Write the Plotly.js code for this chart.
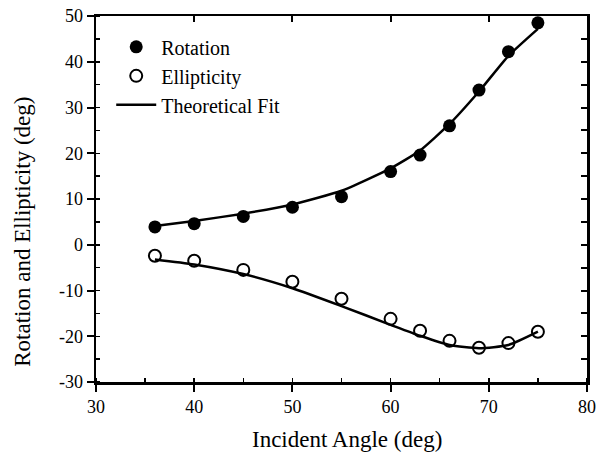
<!DOCTYPE html>
<html>
<head>
<meta charset="utf-8">
<script src="https://cdn.plot.ly/plotly-3.0.1.min.js"></script>
<style>html,body{margin:0;padding:0;background:#fff;}#chart{width:598px;height:452px;}</style>
</head>
<body>
<div id="chart"></div>
<script>
var angles = [36, 40, 45, 50, 55, 60, 63, 66, 69, 72, 75];
var rotation = [3.9, 4.6, 6.2, 8.2, 10.5, 16.0, 19.6, 26.0, 33.8, 42.2, 48.5];
var ellipticity = [-2.4, -3.5, -5.5, -8.1, -11.8, -16.2, -18.8, -21.0, -22.5, -21.5, -19.0];
var fitAngles = [36, 40, 45, 50, 55, 60, 63, 66, 69, 72, 75];
var rotationFit = [4.1, 5.2, 6.8, 8.8, 11.8, 16.7, 20.6, 26.4, 33.5, 41.3, 47.2];
var ellipticityFit = [-3.2, -4.3, -6.4, -9.5, -13.4, -17.5, -19.9, -21.9, -22.6, -21.9, -19.0];
var xTickVals = [30, 40, 50, 60, 70, 80];
var xTickText = ['30', '40', '50', '60', '70', '80'];
var yTickVals = [-30, -20, -10, 0, 10, 20, 30, 40, 50];
var yTickText = ['-30', '-20', '-10', '0', '10', '20', '30', '40', '50'];

var font = "Liberation Serif, Times New Roman, serif";
var traces = [
  {x: angles, y: rotation, mode: 'markers', name: 'Rotation',
   marker: {symbol: 'circle', size: 13, color: '#000'}},
  {x: angles, y: ellipticity, mode: 'markers', name: 'Ellipticity',
   marker: {symbol: 'circle-open', size: 12, color: '#000', line: {width: 2, color: '#000'}}},
  {x: fitAngles, y: rotationFit, mode: 'lines', name: 'Theoretical Fit',
   line: {color: '#000', width: 2.5, shape: 'spline', smoothing: 0.5}},
  {x: fitAngles, y: ellipticityFit, mode: 'lines', name: 'Theoretical Fit', showlegend: false,
   line: {color: '#000', width: 2.5, shape: 'spline', smoothing: 0.6}},
  {x: [30], y: [-30], xaxis: 'x2', yaxis: 'y2', mode: 'markers', showlegend: false,
   marker: {opacity: 0}, hoverinfo: 'skip'}
];
var layout = {
  width: 598, height: 452,
  margin: {l: 96, r: 11, t: 16, b: 70},
  paper_bgcolor: '#fff', plot_bgcolor: '#fff',
  font: {family: font, color: '#000', size: 17},
  showlegend: true,
  legend: {x: 0.031, y: 0.969, xanchor: 'left', yanchor: 'top', bgcolor: 'rgba(0,0,0,0)',
           font: {family: font, size: 20, color: '#000'}, tracegroupgap: 0, itemwidth: 40},
  xaxis: {range: [30, 80], tickmode: 'array', tickvals: xTickVals, ticktext: xTickText,
          showgrid: false, zeroline: false,
          showline: true, linecolor: '#000', linewidth: 2.5,
          ticks: 'outside', ticklen: 7, tickwidth: 2, tickcolor: '#000',
          minor: {dtick: 5, tick0: 30, ticks: 'inside', ticklen: 4, tickwidth: 1.5, tickcolor: '#000'},
          tickfont: {family: font, size: 18}},
  yaxis: {range: [-30, 50], tickmode: 'array', tickvals: yTickVals, ticktext: yTickText,
          showgrid: false, zeroline: false,
          showline: true, linecolor: '#000', linewidth: 2.5,
          ticks: 'outside', ticklen: 7, tickwidth: 2, tickcolor: '#000',
          minor: {dtick: 5, tick0: -30, ticks: 'inside', ticklen: 4, tickwidth: 1.5, tickcolor: '#000'},
          tickfont: {family: font, size: 18}},
  xaxis2: {range: [30, 80], overlaying: 'x', side: 'top', anchor: 'y2', showgrid: false, zeroline: false,
           showline: true, linecolor: '#000', linewidth: 2.5, showticklabels: false,
           ticks: 'inside', ticklen: 6, tickwidth: 2, dtick: 10, tick0: 30, tickcolor: '#000'},
  yaxis2: {range: [-30, 50], overlaying: 'y', side: 'right', anchor: 'x2', showgrid: false, zeroline: false,
           showline: true, linecolor: '#000', linewidth: 2.5, showticklabels: false,
           ticks: 'inside', ticklen: 6, tickwidth: 2, dtick: 5, tick0: -30, tickcolor: '#000'},
  annotations: [
    {text: 'Incident Angle (deg)', xref: 'paper', yref: 'paper', x: 0.511, y: -0.158,
     xanchor: 'center', yanchor: 'middle', showarrow: false,
     font: {family: font, size: 23, color: '#000'}},
    {text: 'Rotation and Ellipticity (deg)', xref: 'paper', yref: 'paper', x: -0.149, y: 0.41,
     xanchor: 'center', yanchor: 'middle', textangle: -90, showarrow: false,
     font: {family: font, size: 23, color: '#000'}}
  ]
};
Plotly.newPlot('chart', traces, layout, {displayModeBar: false, staticPlot: true});
</script>
</body>
</html>
